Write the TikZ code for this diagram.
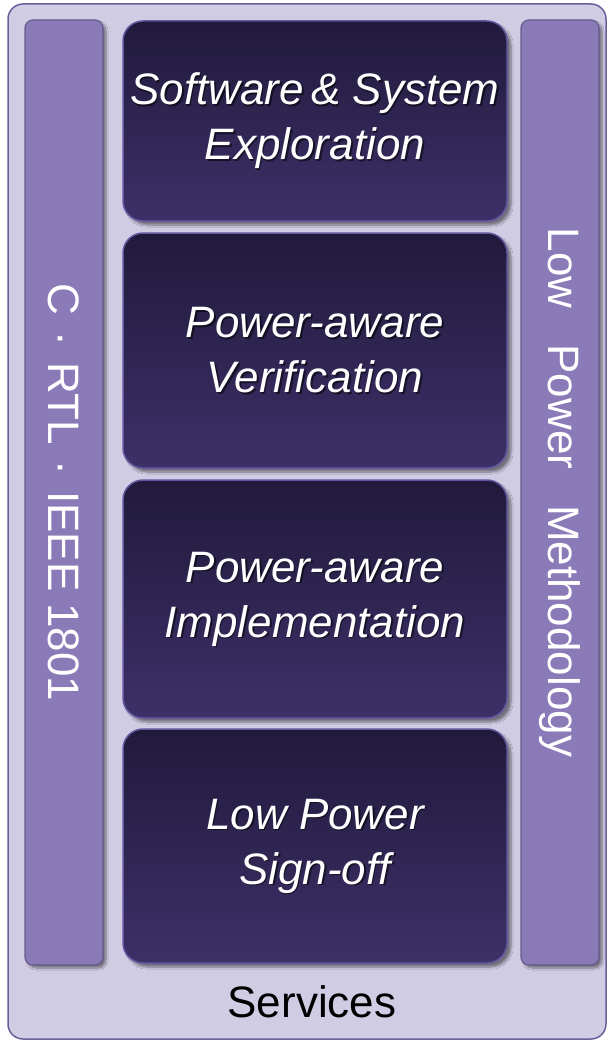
\documentclass[tikz,border=0pt]{standalone}
\usepackage{fontspec}
\setmainfont{Liberation Sans}
\usetikzlibrary{shadows.blur}

\definecolor{outerfill}{HTML}{D0CCE4}
\definecolor{outerline}{HTML}{6B5E9B}
\definecolor{barfill}{HTML}{8A7BB8}
\definecolor{barline}{HTML}{65598F}
\definecolor{boxtop}{HTML}{211A3C}
\definecolor{boxbottom}{HTML}{3D3068}
\definecolor{boxline}{HTML}{6457A0}

\tikzset{
  sidebar/.style={draw=barline, line width=1.2pt, fill=barfill,
    rounded corners=8pt, inner sep=0pt, minimum width=78pt,
    blur shadow={shadow xshift=3pt, shadow yshift=-3pt, shadow blur steps=8, shadow opacity=45}},
  stagebox/.style={draw=boxline, line width=1.5pt, top color=boxtop, bottom color=boxbottom,
    rounded corners=20pt, inner sep=0pt, minimum width=384pt,
    blur shadow={shadow xshift=4pt, shadow yshift=-4pt, shadow blur steps=8, shadow opacity=45}},
  stagetext/.style={text=white, align=center, font=\fontsize{44}{55}\selectfont\itshape},
  stageshadow/.style={stagetext, text=black, text opacity=0.55},
  sidetext/.style={text=white, rotate=-90, font=\fontsize{44}{50}\selectfont},
}

\begin{document}
\begin{tikzpicture}[x=1pt,y=-1pt]
\useasboundingbox (0,0) rectangle (608,1041);

% outer frame holding everything
\path[draw=outerline, fill=outerfill, line width=1.5pt, rounded corners=15pt]
  (8,4) rectangle (606,1039);

% side bars
\node[sidebar, minimum height=945pt] (left) at (64,492.5) {};
\node[sidebar, minimum height=945pt] (right) at (560,492.5) {};

% flow stages
\node[stagebox, minimum height=200pt] (s1) at (315,121) {};
\node[stagebox, minimum height=235pt] (s2) at (315,350.5) {};
\node[stagebox, minimum height=238pt] (s3) at (315,599) {};
\node[stagebox, minimum height=234pt] (s4) at (315,846) {};

% stage labels, each with a soft dark copy behind it
\foreach \n/\t in {s1/{Software\,\& System\\Exploration},
                   s2/{Power-aware\\Verification},
                   s3/{Power-aware\\Implementation},
                   s4/{Low Power\\Sign-off}} {
  \node[stageshadow] (\n sh) at ([xshift=1.5pt,yshift=-1.5pt]\n.center) {\t};
  \node[stagetext] (\n txt) at (\n.center) {\t};
}

% vertical captions
\node[sidetext] (lefttxt) at (left.center)
  {C\hspace{16pt}·\hspace{16pt}RTL\hspace{16pt}·\hspace{16pt}IEEE\hspace{12pt}1801};
\node[sidetext] (righttxt) at (right.center)
  {Low\hspace{36pt}Power\hspace{36pt}Methodology};

% bottom caption
\node[font=\fontsize{44}{50}\selectfont, text=black, anchor=base] (services) at (312,1017) {Services};
\end{tikzpicture}
\end{document}
